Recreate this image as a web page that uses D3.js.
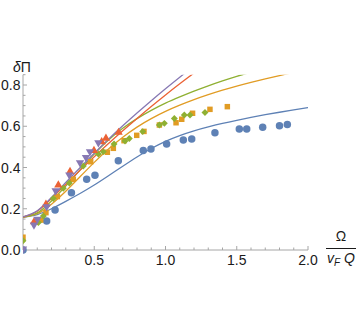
<!DOCTYPE html>
<html><head><meta charset="utf-8">
<script src="https://cdn.jsdelivr.net/npm/d3@7"></script>
<style>body{margin:0;background:#fff}svg{display:block}text{font-family:"Liberation Sans",Arial,sans-serif}</style>
</head><body>
<script>
// theory curves sampled at x = 0, 0.1, 0.2, ...
const curveStep = 0.1;
const curveBlue   = [0.16,0.172,0.2,0.236,0.274,0.315,0.36,0.406,0.451,0.492,0.527,0.555,0.578,0.597,0.614,0.629,0.643,0.656,0.668,0.679,0.69];
const curveOrange = [0.16,0.176,0.222,0.285,0.355,0.425,0.49,0.547,0.596,0.637,0.672,0.702,0.729,0.753,0.775,0.795,0.813,0.83,0.846,0.861,0.874];
const curveGreen  = [0.16,0.18,0.238,0.31,0.388,0.465,0.533,0.59,0.637,0.677,0.712,0.742,0.77,0.796,0.82,0.842,0.862,0.88];
const curveRed    = [0.16,0.188,0.25,0.318,0.386,0.452,0.516,0.578,0.638,0.696,0.752,0.806,0.858,0.908];
const curvePurple = [0.16,0.19,0.255,0.327,0.399,0.469,0.537,0.602,0.664,0.724,0.782,0.838,0.892];

// data points [x, y]
const ptsBlue = [[0,0.0],[0.166,0.141],[0.225,0.194],[0.34,0.278],[0.447,0.343],[0.505,0.363],[0.669,0.433],[0.844,0.483],[0.898,0.49],[1.008,0.514],[1.125,0.533],[1.184,0.538],[1.347,0.569],[1.518,0.587],[1.57,0.587],[1.682,0.595],[1.8,0.603],[1.855,0.608]];
const ptsOrange = [[0,0.062],[0.124,0.145],[0.161,0.181],[0.241,0.259],[0.353,0.343],[0.475,0.428],[0.592,0.474],[0.634,0.493],[0.709,0.53],[0.798,0.556],[0.849,0.575],[0.957,0.606],[1.074,0.617],[1.114,0.634],[1.19,0.663],[1.312,0.682],[1.434,0.695]];
const ptsGreen = [[0,0.045],[0.108,0.133],[0.143,0.165],[0.213,0.25],[0.283,0.299],[0.325,0.325],[0.423,0.407],[0.529,0.465],[0.564,0.477],[0.639,0.514],[0.716,0.528],[0.746,0.541],[0.84,0.574],[0.957,0.606],[0.992,0.614],[1.062,0.638],[1.132,0.655],[1.172,0.655],[1.277,0.667]];
const ptsRed = [[0.077,0.136],[0.161,0.221],[0.248,0.315],[0.33,0.38],[0.498,0.482],[0.552,0.525],[0.582,0.541],[0.671,0.57]];
const ptsPurple = [[0,0.005],[0.077,0.122],[0.101,0.149],[0.166,0.21],[0.229,0.288],[0.325,0.364],[0.4,0.423],[0.442,0.449],[0.47,0.477],[0.529,0.52]];

const xTicks = [0.5,1.0,1.5,2.0];
const yTicks = [0.0,0.2,0.4,0.6,0.8];

const colors = {blue:"#5e81b5", orange:"#e19c24", green:"#8fb032", red:"#eb6235", purple:"#8778b3"};

const W = 359, H = 318;
const svg = d3.select("body").append("svg").attr("width", W).attr("height", H);
const x = d3.scaleLinear().domain([0,2]).range([23,308]);
const y = d3.scaleLinear().domain([0,0.85]).range([250,74.7]);

svg.append("clipPath").attr("id","clip").append("rect")
  .attr("x", x(0)).attr("y", y(0.85)).attr("width", x(2.05)-x(0)).attr("height", y(0)-y(0.85));
svg.append("clipPath").attr("id","clipPts").append("rect")
  .attr("x", x(0)).attr("y", 0).attr("width", W).attr("height", H);

// axes
const axisCol = "#a6a6a6";
svg.append("line").attr("x1", x(0)).attr("x2", x(2)).attr("y1", y(0)).attr("y2", y(0)).attr("stroke", axisCol);
svg.append("line").attr("x1", x(0)).attr("x2", x(0)).attr("y1", y(0)).attr("y2", y(0.85)).attr("stroke", axisCol);
d3.range(1,21).forEach(i => {
  const v = i/10, major = i % 5 === 0;
  svg.append("line").attr("x1", x(v)).attr("x2", x(v)).attr("y1", y(0)).attr("y2", y(0) - (major ? 4 : 2.5)).attr("stroke", axisCol);
});
d3.range(1,18).forEach(i => {
  const v = i*0.05, major = i % 4 === 0;
  svg.append("line").attr("x1", x(0)).attr("x2", x(0) + (major ? 4 : 2.5)).attr("y1", y(v)).attr("y2", y(v)).attr("stroke", axisCol);
});
svg.selectAll(".xt").data(xTicks).enter().append("text")
  .attr("x", d => x(d)).attr("y", 265).attr("text-anchor","middle").attr("font-size",14).attr("fill","#1a1a1a")
  .text(d => d.toFixed(1));
svg.selectAll(".yt").data(yTicks).enter().append("text")
  .attr("x", 20.5).attr("y", d => y(d) + 5).attr("text-anchor","end").attr("font-size",14).attr("fill","#1a1a1a")
  .text(d => d.toFixed(1));

// axis labels
const yl = svg.append("text").attr("x", 13).attr("y", 72).attr("font-size", 14).attr("fill","#1a1a1a");
yl.append("tspan").attr("font-style","italic").text("δ");
yl.append("tspan").text("Π");
svg.append("text").attr("x", 341).attr("y", 241).attr("text-anchor","middle").attr("font-size",14).attr("fill","#1a1a1a").text("Ω");
svg.append("line").attr("x1", 326).attr("x2", 356).attr("y1", 248.5).attr("y2", 248.5).attr("stroke","#1a1a1a").attr("stroke-width",1);
const xl = svg.append("text").attr("x", 341).attr("y", 263).attr("text-anchor","middle").attr("font-size",14).attr("fill","#1a1a1a").attr("font-style","italic");
xl.append("tspan").text("v");
xl.append("tspan").attr("font-size",10).attr("dy",3).text("F");
xl.append("tspan").attr("dy",-3).text(" Q");

// curves
const line = d3.line().x((d,i) => x(i*curveStep)).y(d => y(d)).curve(d3.curveNatural);
const g = svg.append("g").attr("clip-path","url(#clip)");
[[curveBlue,colors.blue],[curveOrange,colors.orange],[curveGreen,colors.green],[curveRed,colors.red],[curvePurple,colors.purple]]
  .forEach(([c,col]) => g.append("path").attr("d", line(c)).attr("fill","none").attr("stroke",col).attr("stroke-width",1.3));

// markers
const gp = svg.append("g").attr("clip-path","url(#clipPts)");
function drawPts(data, type, size, col, rot) {
  gp.append("g").selectAll("path").data(data).enter().append("path")
    .attr("d", d3.symbol().type(type).size(size))
    .attr("transform", d => `translate(${x(d[0])},${y(d[1])})` + (rot ? ` rotate(${rot})` : ""))
    .attr("fill", col);
}
drawPts(ptsBlue, d3.symbolCircle, 44, colors.blue);
drawPts(ptsOrange, d3.symbolSquare, 30, colors.orange);
drawPts(ptsGreen, d3.symbolSquare, 24, colors.green, 45);
drawPts(ptsRed, d3.symbolTriangle, 30, colors.red);
drawPts(ptsPurple, d3.symbolTriangle, 30, colors.purple, 180);
</script>
</body></html>
